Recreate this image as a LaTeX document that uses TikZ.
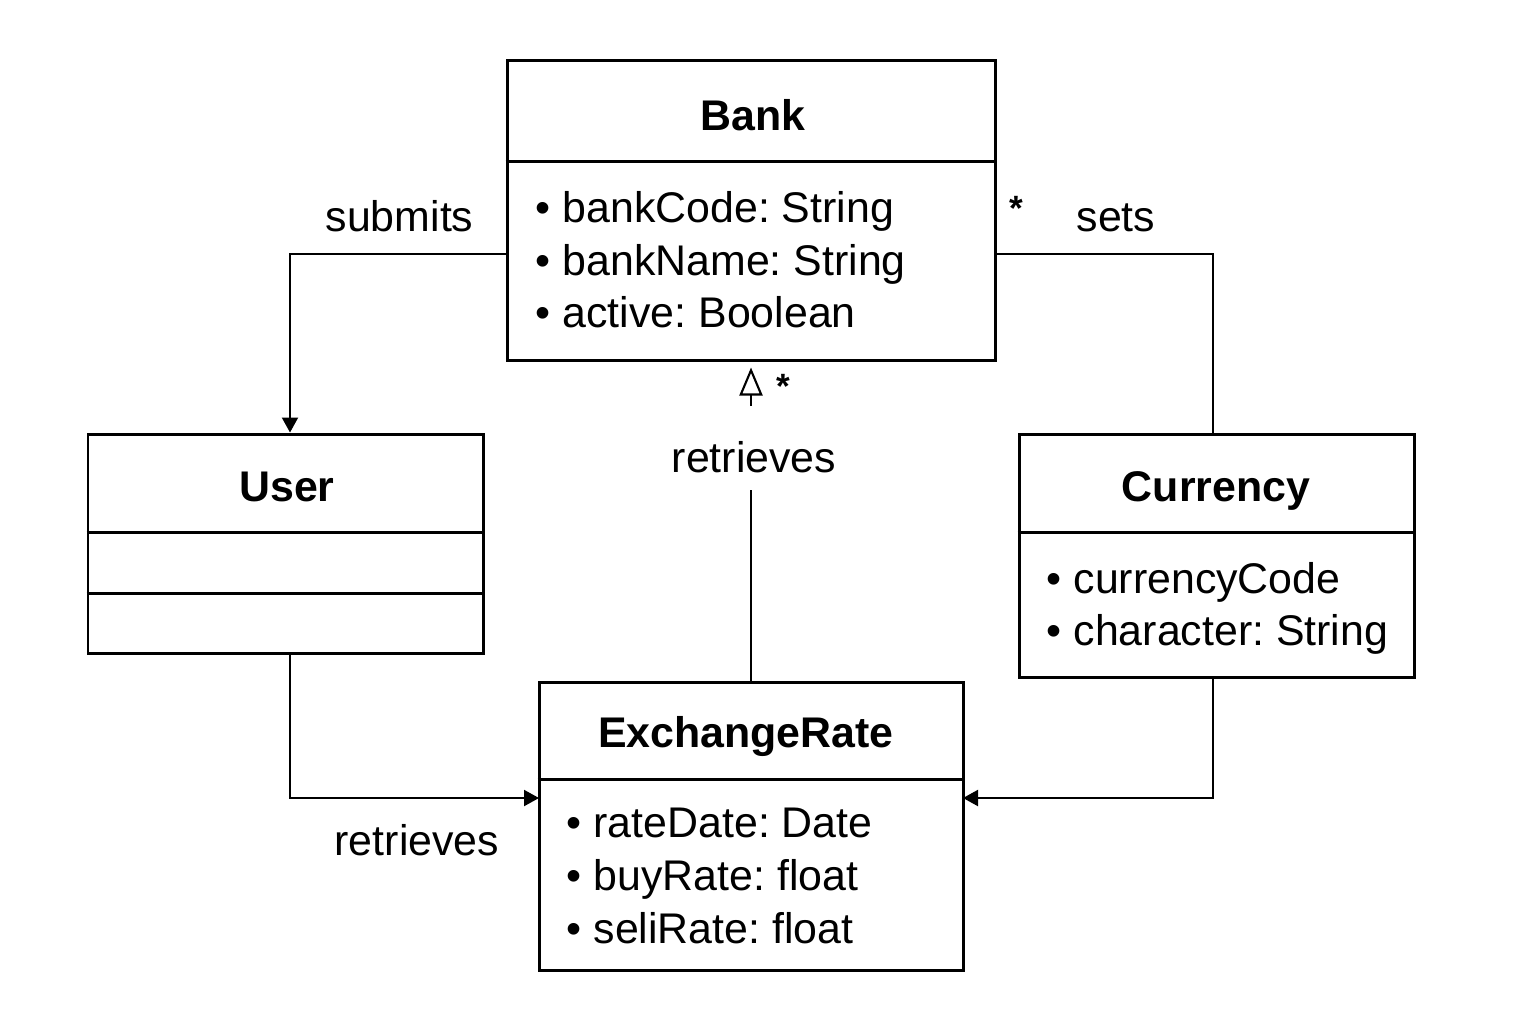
\documentclass[tikz,border=0pt]{standalone}
\usepackage{fontspec}
\setmainfont{Liberation Sans}
\usetikzlibrary{positioning,calc,arrows.meta}
\frenchspacing

\tikzset{
  classbox/.style={draw, line width=0.85pt, inner sep=0pt},
  divider/.style={line width=0.85pt},
  title/.style={font=\fontsize{12.2}{14.6}\selectfont\bfseries, inner sep=0pt, anchor=base},
  attr/.style={font=\fontsize{12.2}{14.6}\selectfont, inner sep=0pt, anchor=base west},
  label/.style={font=\fontsize{12.2}{14.6}\selectfont, inner sep=0pt, anchor=base west},
  mult/.style={font=\fontsize{10}{11}\selectfont\bfseries, inner sep=0pt},
  link/.style={line width=0.6pt},
  tip/.style={-{Triangle[length=0.15cm,width=0.16cm]}}
}

\begin{document}
\begin{tikzpicture}
    \useasboundingbox (0,0) rectangle (15.36,-10.24);

    % Bank
    \node[classbox, minimum width=4.88cm, minimum height=3.00cm] (bank) at (7.51,-2.10) {};
    \draw[divider] (bank.west |- 0,-1.61) -- (bank.east |- 0,-1.61);
    \node[title] (bankT) at (7.53,-1.30) {Bank};
    \node[attr] (bankA1) at (5.35,-2.22) {\textbullet\ bankCode: String};
    \node[attr] (bankA2) at (5.35,-2.75) {\textbullet\ bankName: String};
    \node[attr] (bankA3) at (5.35,-3.27) {\textbullet\ active: Boolean};

    % User
    \node[classbox, minimum width=3.95cm, minimum height=2.19cm] (user) at (2.855,-5.435) {};
    \draw[divider] (user.west |- 0,-5.32) -- (user.east |- 0,-5.32);
    \draw[divider] (user.west |- 0,-5.93) -- (user.east |- 0,-5.93);
    \node[title] (userT) at (2.87,-5.01) {User};

    % Currency
    \node[classbox, minimum width=3.95cm, minimum height=2.43cm] (cur) at (12.165,-5.555) {};
    \draw[divider] (cur.west |- 0,-5.32) -- (cur.east |- 0,-5.32);
    \node[title] (curT) at (12.16,-5.01) {Currency};
    \node[attr] (curA1) at (10.46,-5.93) {\textbullet\ currencyCode};
    \node[attr] (curA2) at (10.46,-6.45) {\textbullet\ character: String};

    % ExchangeRate
    \node[classbox, minimum width=4.24cm, minimum height=2.88cm] (rate) at (7.51,-8.26) {};
    \draw[divider] (rate.west |- 0,-7.79) -- (rate.east |- 0,-7.79);
    \node[title] (rateT) at (7.46,-7.47) {ExchangeRate};
    \node[attr] (rateA1) at (5.66,-8.37) {\textbullet\ rateDate: Date};
    \node[attr] (rateA2) at (5.66,-8.90) {\textbullet\ buyRate: float};
    \node[attr] (rateA3) at (5.66,-9.43) {\textbullet\ seliRate: float};

    % Bank -- User
    \coordinate (bankL) at (5.07,-2.54);
    \draw[link, tip] (bankL) -| ([xshift=0.045cm]user.north);
    \node[label] (submits) at (3.25,-2.31) {submits};

    % Bank -- Currency
    \coordinate (bankR) at (9.95,-2.54);
    \draw[link] (bankR) -| ([xshift=-0.035cm]cur.north);
    \node[mult] (multR) at (10.16,-2.08) {*};
    \node[label] (sets) at (10.76,-2.31) {sets};

    % ExchangeRate -- Bank
    \node[font=\fontsize{12.2}{14.6}\selectfont, inner sep=0pt, anchor=base] (retTop) at (7.54,-4.72) {retrieves};
    \draw[link] (rate.north) -- (7.51,-4.90);
    \coordinate (genBase) at (7.51,-4.06);
    \draw[link, -{Triangle[open,length=0.28cm,width=0.23cm]}, shorten >=0.06cm] (genBase) -- (bank.south);
    \node[mult] (multB) at (7.83,-3.86) {*};

    % User -- ExchangeRate
    \coordinate (rateL) at (5.39,-7.98);
    \draw[link, tip] ([xshift=0.045cm]user.south) |- (rateL);
    \node[label] (retBot) at (3.34,-8.55) {retrieves};

    % Currency -- ExchangeRate
    \coordinate (rateR) at (9.63,-7.98);
    \draw[link, tip] ([xshift=-0.035cm]cur.south) |- (rateR);
\end{tikzpicture}
\end{document}
